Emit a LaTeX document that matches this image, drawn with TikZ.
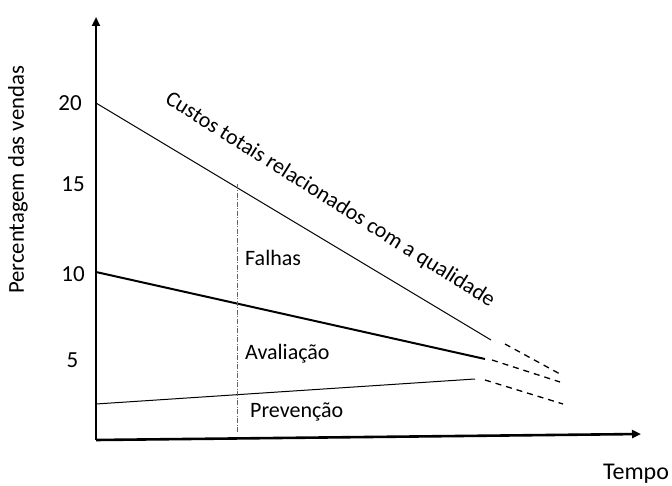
\documentclass[tikz,border=0pt]{standalone}
\usepackage{fontspec}
\setmainfont{Carlito}
\usetikzlibrary{arrows.meta}
\begin{document}
\begin{tikzpicture}[x=1pt, y=-1pt,
	axis/.style={line width=2.6pt, -{Triangle[length=9pt, width=8pt]}},
	costline/.style={line width=1pt},
	extension/.style={line width=1.3pt, dash pattern=on 6pt off 5pt},
	lbl/.style={font=\fontsize{22}{26}\selectfont, inner sep=0pt},
	ticklbl/.style={font=\fontsize{23}{27}\selectfont, inner sep=0pt, anchor=east}]
	\useasboundingbox (0,0) rectangle (672,486);
	% axes
	\coordinate (origin) at (96,440);
	\coordinate (ytop) at (96,17);
	\coordinate (xend) at (641,434);
	\draw [axis] (origin) -- (ytop);
	\draw [axis] (origin) -- (xend);
	\node [lbl, font=\fontsize{22.7}{27}\selectfont, rotate=90] (ylabel) at (18,180) {Percentagem das vendas};
	\node [lbl, font=\fontsize{24}{28}\selectfont] (xlabel) at (636,474) {Tempo};
	% tick labels
	\node [ticklbl] (t20) at (82,103) {20};
	\node [ticklbl] (t15) at (85,184.5) {15};
	\node [ticklbl] (t10) at (85,274) {10};
	\node [ticklbl] (t5) at (78.5,360.5) {5};
	% cost lines
	\coordinate (totalA) at (96,103);
	\coordinate (totalB) at (491,340);
	\coordinate (totalC) at (505,344);
	\coordinate (totalD) at (560,374);
	\coordinate (evalA) at (96,272);
	\coordinate (evalB) at (485,359);
	\coordinate (evalC) at (492,360);
	\coordinate (evalD) at (560,382);
	\coordinate (prevA) at (96,404);
	\coordinate (prevB) at (475,379);
	\coordinate (prevC) at (485,380);
	\coordinate (prevD) at (563,404);
	\draw [costline] (totalA) -- (totalB);
	\draw [extension] (totalC) -- (totalD);
	\draw [costline, line width=2pt] (evalA) -- (evalB);
	\draw [extension] (evalC) -- (evalD);
	\draw [costline] (prevA) -- (prevB);
	\draw [extension] (prevC) -- (prevD);
	% vertical section
	\coordinate (secTop) at (237.5,184);
	\coordinate (secBot) at (237.5,432);
	\draw [gray!80!black, line width=0.9pt, dash pattern=on 5pt off 1.5pt on 1pt off 1.5pt] (secTop) -- (secBot);
	\node [lbl, anchor=west] (falhas) at (245,258) {Falhas};
	\node [lbl, anchor=west] (avaliacao) at (245,354) {Avaliação};
	\node [lbl, anchor=west] (prevencao) at (250,412) {Prevenção};
	\node [lbl, rotate=-32.2] (total) at (330,200) {Custos totais relacionados com a qualidade};
\end{tikzpicture}
\end{document}
